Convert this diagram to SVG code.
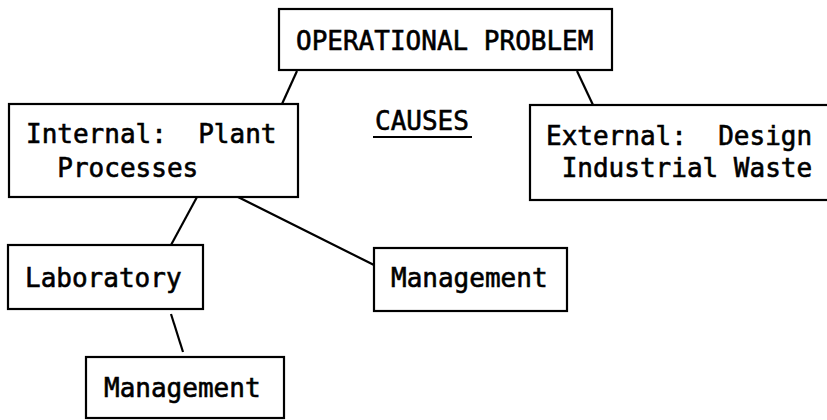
<svg xmlns="http://www.w3.org/2000/svg" width="827" height="420" viewBox="0 0 827 420">
<style>
.box{fill:#fff;stroke:#000;stroke-width:2.2}
.t{font-family:"DejaVu Sans Mono","Liberation Mono",monospace;font-size:26px;fill:#000;stroke:#000;stroke-width:0.6;white-space:pre}
.c{stroke:#000;stroke-width:2.2;fill:none}
</style>
<rect width="827" height="420" fill="#fff"/>
<g id="connectors">
<line class="c" x1="297" y1="71" x2="282" y2="104"/>
<line class="c" x1="577" y1="71" x2="593" y2="105"/>
<line class="c" x1="197" y1="197" x2="171" y2="245"/>
<line class="c" x1="238" y1="197" x2="374" y2="265"/>
<line class="c" x1="171" y1="314" x2="183" y2="352"/>
</g>
<g id="operational-problem">
<rect class="box" x="279" y="9" width="333" height="61"/>
<text class="t" x="296" y="50" xml:space="preserve">OPERATIONAL PROBLEM</text>
</g>
<g id="causes">
<text class="t" x="375" y="130">CAUSES</text>
<line x1="373" y1="137" x2="472" y2="137" stroke="#000" stroke-width="2"/>
</g>
<g id="internal">
<rect class="box" x="9" y="104" width="289" height="93"/>
<text class="t" x="26" y="143" xml:space="preserve">Internal:  Plant</text>
<text class="t" x="26" y="177" xml:space="preserve">  Processes</text>
</g>
<g id="external">
<rect class="box" x="530" y="105" width="320" height="95"/>
<text class="t" x="546" y="145" xml:space="preserve">External:  Design</text>
<text class="t" x="546" y="177" xml:space="preserve"> Industrial Waste</text>
</g>
<g id="laboratory">
<rect class="box" x="8" y="245" width="195" height="64"/>
<text class="t" x="25" y="287">Laboratory</text>
</g>
<g id="management-right">
<rect class="box" x="374" y="248" width="193" height="63"/>
<text class="t" x="391" y="287">Management</text>
</g>
<g id="management-bottom">
<rect class="box" x="86" y="357" width="198" height="61"/>
<text class="t" x="104" y="397">Management</text>
</g>
</svg>
